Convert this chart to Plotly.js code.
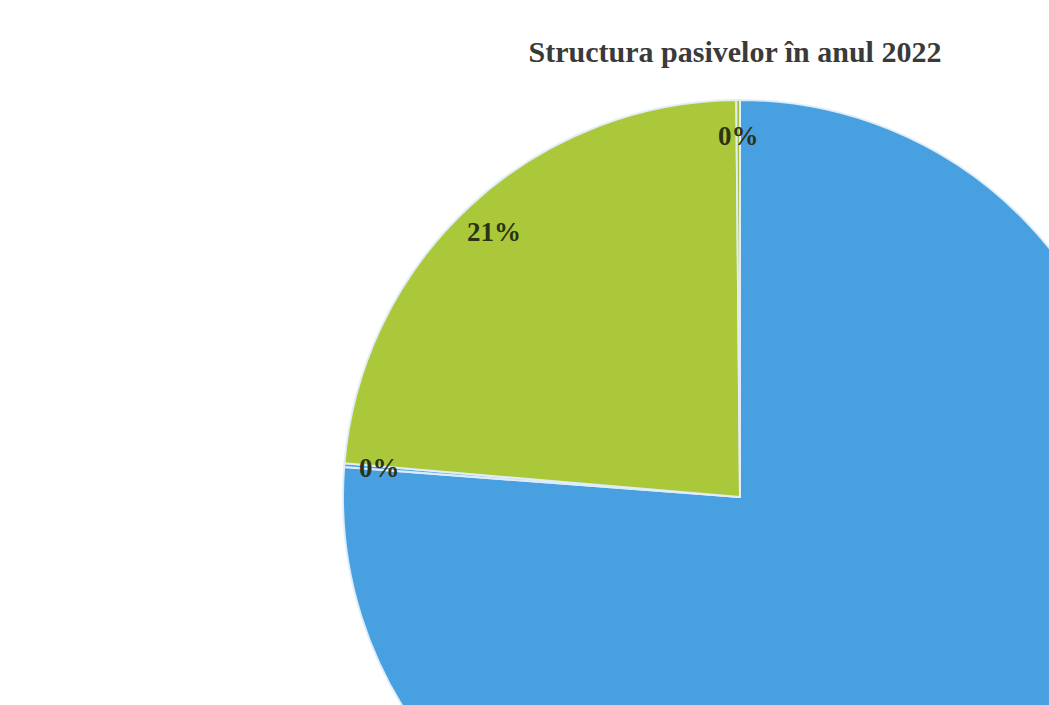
<!DOCTYPE html>
<html>
<head>
<meta charset="utf-8">
<script src="https://cdn.plot.ly/plotly-3.0.1.min.js"></script>
<style>
html, body { margin:0; padding:0; width:1049px; height:705px; overflow:hidden; background:#ffffff; }
#chart { width:1480px; height:994px; }
</style>
</head>
<body>
<div id="chart"></div>
<script>
// Slices in clockwise order starting at 12 o'clock
const categories = ['Datorii pe termen scurt', 'Datorii pe termen lung', 'Capital propriu', 'Alte pasive'];
const sliceValues = [76.2, 0.15, 23.5, 0.15];
// the label of the large blue slice lies outside the visible crop of the reference
const pctText = ['', '0%', '21%', '0%'];
const sliceColors = ['#48A0E1', '#4FA6E3', '#AAC83A', '#9FC23A'];
const chartTitle = 'Structura pasivelor în anul 2022';

const W = 1480, H = 994;
const cx = 740, cy = 497, R = 397;
const dom = {
  x: [(cx - R) / W, (cx + R) / W],
  y: [(H - cy - R) / H, (H - cy + R) / H]
};

// label positions derived from the data (mid-angle of each slice, near the rim)
const total = sliceValues.reduce((a, b) => a + b, 0);
let cum = 0;
const annotations = [];
sliceValues.forEach((v, i) => {
  const mid = (cum + v / 2) / total * 2 * Math.PI;
  cum += v;
  if (!pctText[i]) return;
  const r = 0.91 * R;
  const px = cx + r * Math.sin(mid);
  const py = cy - r * Math.cos(mid);
  annotations.push({
    xref: 'paper', yref: 'paper',
    x: px / W, y: 1 - py / H,
    text: pctText[i], showarrow: false,
    xanchor: 'center', yanchor: 'middle',
    font: { family: 'Liberation Serif, DejaVu Serif, serif', size: 27, weight: 'bold', color: '#2b3312' }
  });
});

const trace = {
  type: 'pie',
  labels: categories,
  values: sliceValues,
  sort: false,
  direction: 'clockwise',
  rotation: 0,
  textinfo: 'none',
  hoverinfo: 'label+percent',
  domain: dom,
  marker: { colors: sliceColors, line: { color: 'rgba(225,238,250,0.95)', width: 2 } }
};

const layout = {
  width: W, height: H,
  margin: { l: 0, r: 0, t: 0, b: 0 },
  paper_bgcolor: '#ffffff',
  showlegend: false,
  title: {
    text: chartTitle,
    xref: 'paper', yref: 'container',
    x: 735 / W, xanchor: 'center',
    y: 1 - 51 / H, yanchor: 'middle',
    font: { family: 'Liberation Serif, DejaVu Serif, serif', size: 30, weight: 'bold', color: '#3a3a3a' }
  },
  annotations: annotations
};

Plotly.newPlot('chart', [trace], layout, { displayModeBar: false, staticPlot: true });
</script>
</body>
</html>
